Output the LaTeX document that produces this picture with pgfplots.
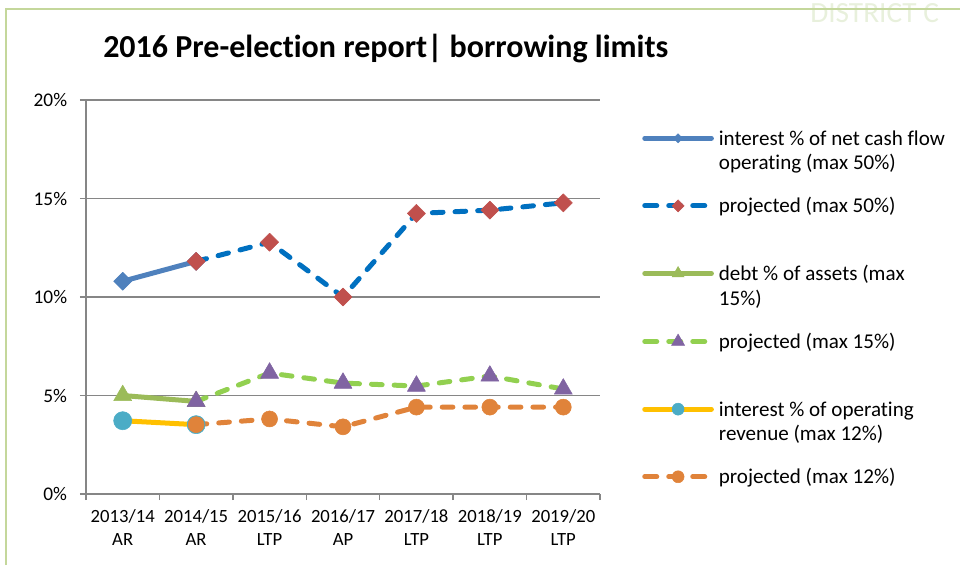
\documentclass[border=0pt]{standalone}
\usepackage{pgfplots}
\pgfplotsset{compat=1.18}
\usepackage{fontspec}
\setmainfont{Carlito}[Ligatures=NoCommon]
\definecolor{gridgray}{RGB}{134,134,134}
\definecolor{sblue}{RGB}{79,129,189}
\definecolor{pblue}{RGB}{0,112,192}
\definecolor{pred}{RGB}{192,80,77}
\definecolor{solive}{RGB}{155,187,89}
\definecolor{plgreen}{RGB}{146,208,80}
\definecolor{ppurple}{RGB}{128,100,162}
\definecolor{syellow}{RGB}{255,192,0}
\definecolor{steal}{RGB}{75,172,198}
\definecolor{porange}{RGB}{224,131,58}
\definecolor{bordergreen}{RGB}{196,215,155}
\definecolor{wmark}{RGB}{232,240,220}

\pgfplotstableread{
x y
0 10.80
1 11.81
}\tblA
\pgfplotstableread{
x y
1 11.81
2 12.78
3 10.00
4 14.24
5 14.41
6 14.78
}\tblB
\pgfplotstableread{
x y
0 5.00
1 4.70
}\tblC
\pgfplotstableread{
x y
1 4.70
2 6.14
3 5.63
4 5.48
5 5.99
6 5.33
}\tblD
\pgfplotstableread{
x y
0 3.72
1 3.52
}\tblE
\pgfplotstableread{
x y
1 3.52
2 3.81
3 3.41
4 4.41
5 4.41
6 4.41
}\tblF

\begin{document}
\begin{tikzpicture}
\useasboundingbox (0,0) rectangle (720pt,-423.75pt);
\node[anchor=base west, inner sep=0pt, text=wmark, font=\fontsize{22}{26}\selectfont] at (607.5pt,-16.5pt) {DISTRICT C};
\draw[bordergreen, line width=1.2pt] (4.5pt,-423.75pt) -- (4.5pt,-6.75pt) -- (720pt,-6.75pt);
\node[anchor=base west, inner sep=0pt, font=\fontsize{24}{28}\selectfont\bfseries] at (77.25pt,-42.75pt) {2016 Pre-election report| borrowing limits};
\begin{axis}[
  at={(64.5pt,-370.5pt)}, anchor=south west,
  scale only axis, width=385.5pt, height=295.5pt,
  xmin=-0.5, xmax=6.5, ymin=0, ymax=20,
  axis lines=left,
  axis line style={-, draw=gridgray, line width=1.1pt},
  xtick={0,...,6},
  xticklabels={{2013/14\\AR},{2014/15\\AR},{2015/16\\LTP},{2016/17\\AP},{2017/18\\LTP},{2018/19\\LTP},{2019/20\\LTP}},
  minor xtick={-0.5,0.5,...,6.5},
  every major x tick/.append style={draw=none},
  every minor x tick/.append style={draw=gridgray, line width=1.1pt},
  every major y tick/.append style={draw=gridgray, line width=1.1pt},
  ytick={0,5,10,15,20},
  yticklabel={\pgfmathprintnumber{\tick}\%},
  tick align=outside, major tick length=4.5pt, minor tick length=4.5pt,
  ymajorgrids,
  major grid style={draw=gridgray, line width=1.1pt},
  xticklabel style={align=center, inner sep=0pt, yshift=-6.8pt, font=\fontsize{14}{17.5}\selectfont},
  yticklabel style={inner sep=0pt, xshift=-9.5pt, font=\fontsize{14.5}{17}\selectfont},
  /pgf/number format/assume math mode=true,
  clip=false,
  legend cell align=left,
  legend image code/.code={\draw[mark repeat=2,mark phase=2,#1] plot coordinates {(0pt,0pt) (25pt,0pt) (50pt,0pt)};},
  legend style={at={(1.0817,0.9213)}, anchor=north west, draw=none, fill=none,
    inner sep=0pt, row sep=40.2pt, column sep=3.75pt,
    font=\fontsize{15.8}{18.5}\selectfont,
    nodes={inner sep=0pt, text height=10.5pt, text depth=0pt, anchor=west}},
]
% plotted series
\addplot[forget plot, sblue, line width=3.75pt, line cap=round, line join=round,
  mark=square*, mark size=4.8pt, mark options={rotate=45, solid, line width=0.4pt, draw=sblue, fill=sblue}] table[x=x,y=y] {\tblA};
\addplot[forget plot, pblue, line width=3.75pt, line cap=round, line join=round, dash pattern=on 8pt off 9pt,
  mark=square*, mark size=4.8pt, mark options={rotate=45, solid, line width=0.4pt, draw=pred, fill=pred}] table[x=x,y=y] {\tblB};
\addplot[forget plot, solive, line width=3.75pt, line cap=round, line join=round,
  mark=triangle*, mark size=7.8pt, mark options={solid, line width=0.4pt, draw=solive, fill=solive}] table[x=x,y=y] {\tblC};
\addplot[forget plot, plgreen, line width=3.75pt, line cap=round, line join=round, dash pattern=on 8pt off 9pt,
  mark=triangle*, mark size=7.8pt, mark options={solid, line width=0.4pt, draw=ppurple, fill=ppurple}] table[x=x,y=y] {\tblD};
\addplot[forget plot, syellow, line width=3.75pt, line cap=round, line join=round,
  mark=*, mark size=6.8pt, mark options={solid, line width=0.4pt, draw=steal, fill=steal}] table[x=x,y=y] {\tblE};
\addplot[forget plot, porange, line width=3.75pt, line cap=round, line join=round, dash pattern=on 8pt off 9pt,
  mark=*, mark size=6pt, mark options={solid, line width=0.4pt, draw=porange, fill=porange}] table[x=x,y=y] {\tblF};
% legend
\addlegendimage{sblue, line width=3.75pt, line cap=round, mark=square*, mark size=2.4pt, mark options={rotate=45, solid, line width=0.4pt, draw=sblue, fill=sblue}}
\addlegendentry{\begin{tabular}[t]{@{}l@{}}interest \% of net cash flow\\operating (max 50\%)\end{tabular}}
\addlegendimage{pblue, line width=3.75pt, line cap=round, dash pattern=on 9pt off 9pt, mark=square*, mark size=3.2pt, mark options={rotate=45, solid, line width=0.4pt, draw=pred, fill=pred}}
\addlegendentry{projected (max 50\%)}
\addlegendimage{solive, line width=3.75pt, line cap=round, mark=triangle*, mark size=5.2pt, mark options={solid, line width=0.4pt, draw=solive, fill=solive}}
\addlegendentry{\begin{tabular}[t]{@{}l@{}}debt \% of assets (max\\15\%)\end{tabular}}
\addlegendimage{plgreen, line width=3.75pt, line cap=round, dash pattern=on 9pt off 9pt, mark=triangle*, mark size=5.6pt, mark options={solid, line width=0.4pt, draw=ppurple, fill=ppurple}}
\addlegendentry{projected (max 15\%)}
\addlegendimage{syellow, line width=3.75pt, line cap=round, mark=*, mark size=4.5pt, mark options={solid, line width=0.4pt, draw=steal, fill=steal}}
\addlegendentry{\begin{tabular}[t]{@{}l@{}}interest \% of operating\\revenue (max 12\%)\end{tabular}}
\addlegendimage{porange, line width=3.75pt, line cap=round, dash pattern=on 9pt off 9pt, mark=*, mark size=4.5pt, mark options={solid, line width=0.4pt, draw=porange, fill=porange}}
\addlegendentry{projected (max 12\%)}
\end{axis}
\end{tikzpicture}
\end{document}
